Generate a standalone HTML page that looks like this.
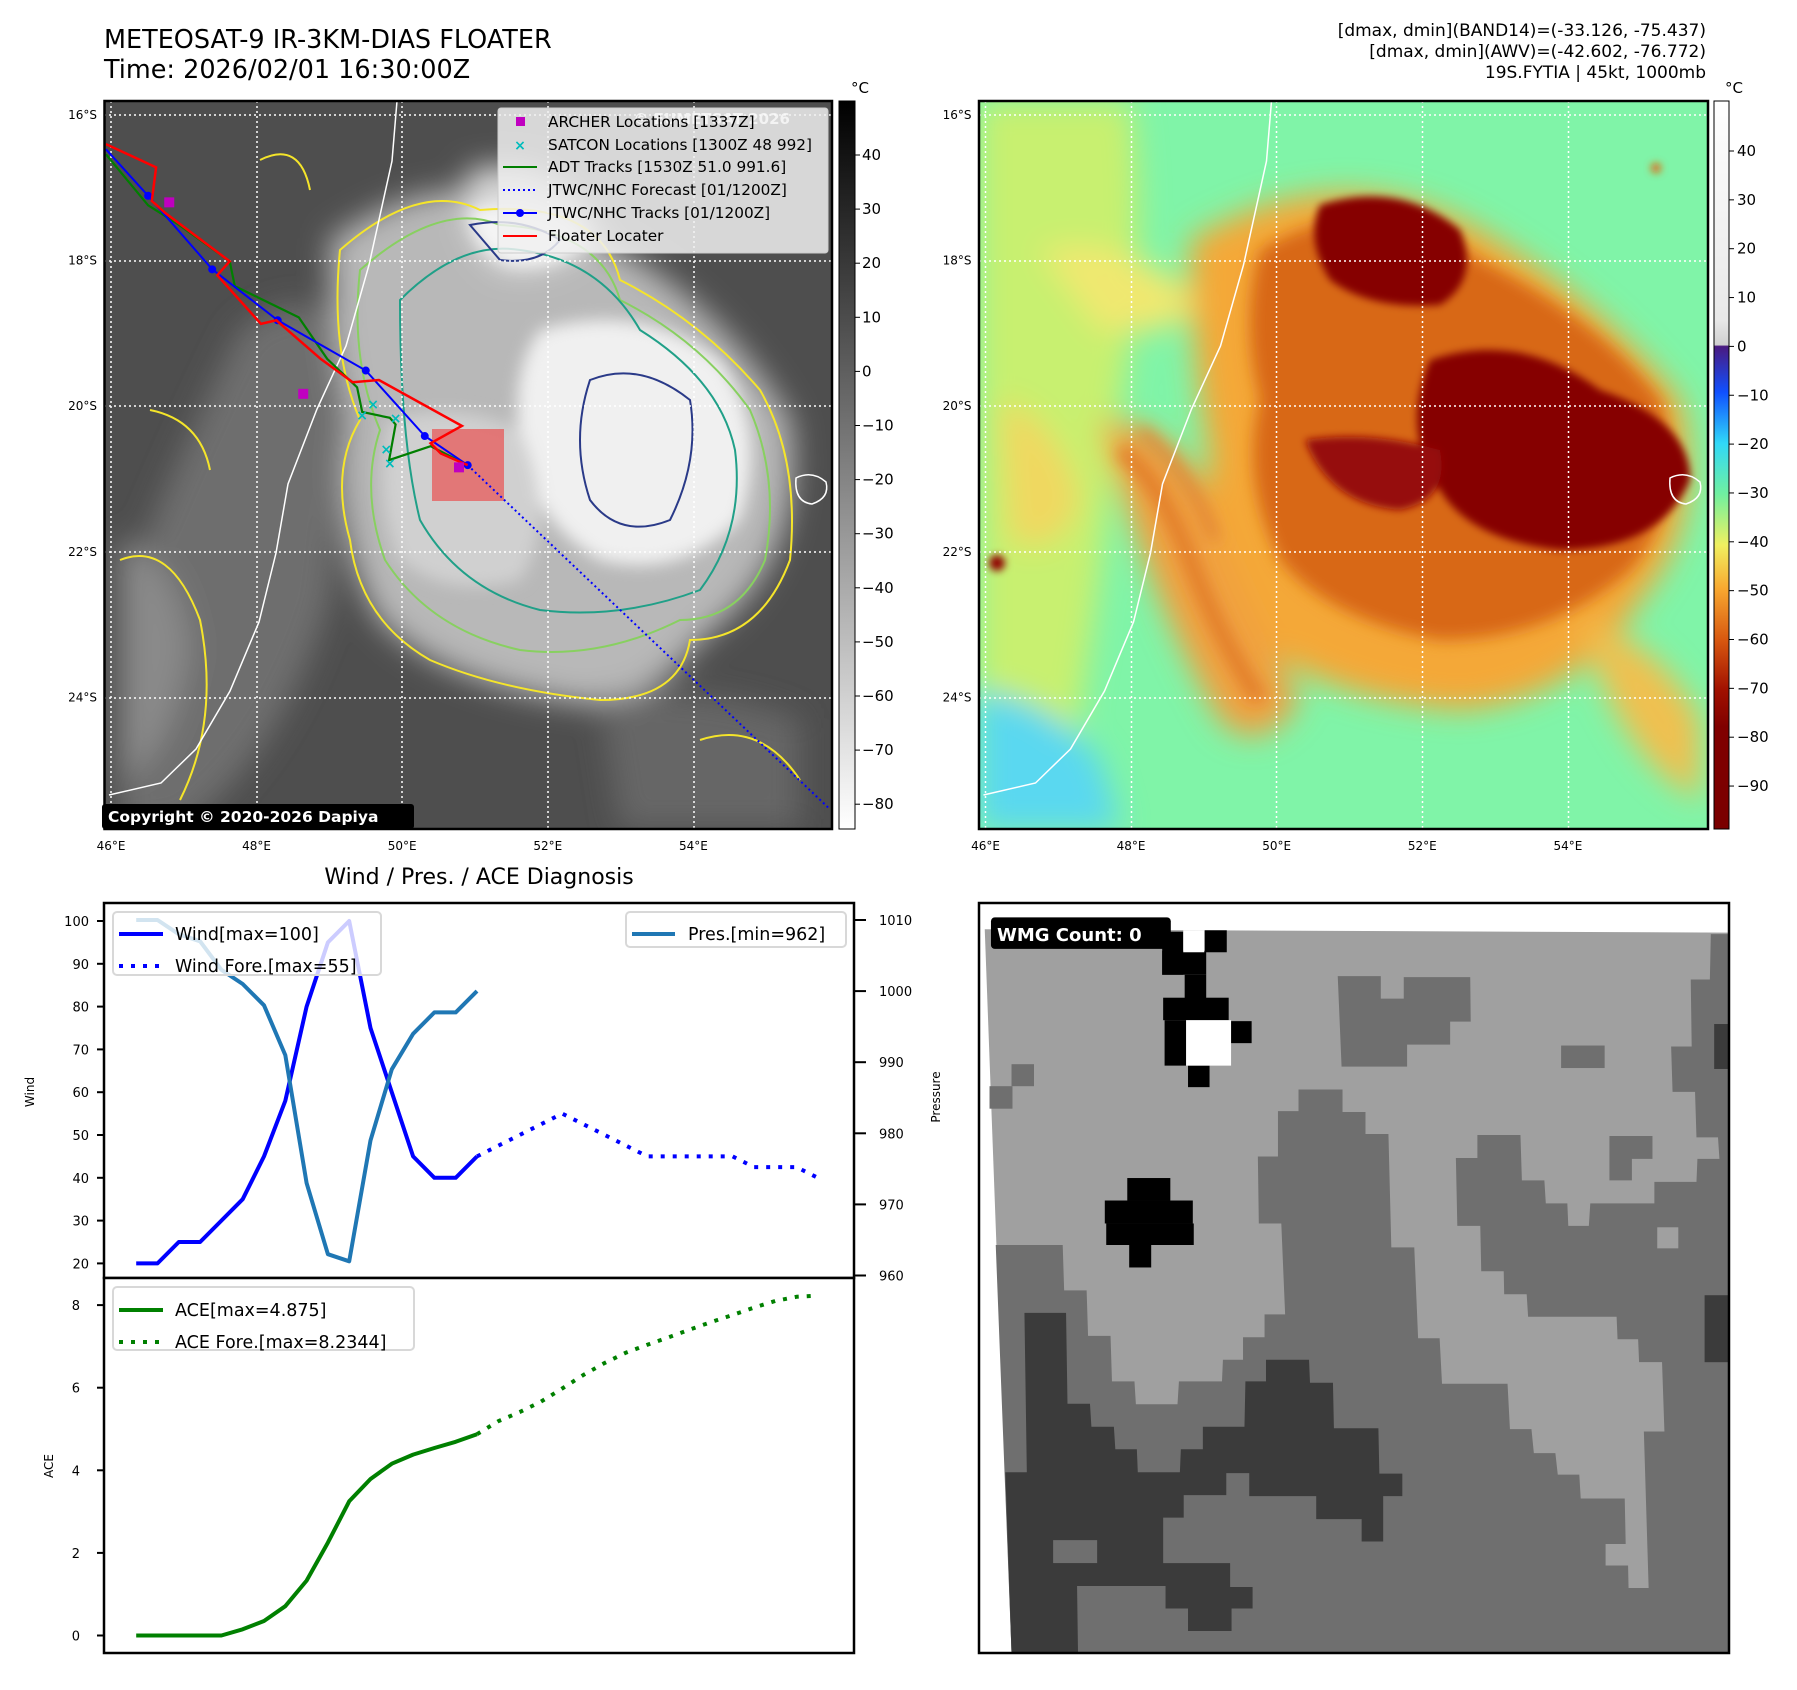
<!DOCTYPE html>
<html><head><meta charset="utf-8">
<style>
html,body{margin:0;padding:0;background:#fff;}
body{width:1797px;height:1690px;position:relative;overflow:hidden;font-family:"DejaVu Sans","Liberation Sans",sans-serif;color:#000;}
.abs{position:absolute;white-space:nowrap;}
svg{position:absolute;left:0;top:0;}
</style></head>
<body>
<div class="abs" style="left:104px;top:25px;font-size:25.5px;line-height:30px;">METEOSAT-9 IR-3KM-DIAS FLOATER<br>Time: 2026/02/01 16:30:00Z</div>
<div class="abs" style="right:91px;top:21px;font-size:17px;line-height:21px;text-align:right;">[dmax, dmin](BAND14)=(-33.126, -75.437)<br>[dmax, dmin](AWV)=(-42.602, -76.772)<br>19S.FYTIA | 45kt, 1000mb</div>
<div class="abs" style="left:479px;top:865px;transform:translateX(-50%);font-size:22px;">Wind / Pres. / ACE Diagnosis</div>

<svg width="1797" height="1690" viewBox="0 0 1797 1690" xmlns="http://www.w3.org/2000/svg" font-family="DejaVu Sans, Liberation Sans, sans-serif">
<defs>
<filter id="b8" x="-30%" y="-30%" width="160%" height="160%"><feGaussianBlur stdDeviation="8"/></filter>
<filter id="b15" x="-30%" y="-30%" width="160%" height="160%"><feGaussianBlur stdDeviation="15"/></filter>
<filter id="b4" x="-30%" y="-30%" width="160%" height="160%"><feGaussianBlur stdDeviation="4"/></filter>
<clipPath id="clipL"><rect x="104.5" y="101" width="727.5" height="728"/></clipPath>
<clipPath id="clipR"><rect x="979" y="101" width="729" height="728"/></clipPath>
<linearGradient id="cbL" x1="0" y1="0" x2="0" y2="1"><stop offset="0" stop-color="#000"/><stop offset="1" stop-color="#fff"/></linearGradient>
<linearGradient id="cbR" x1="0" y1="0" x2="0" y2="1">
<stop offset="0" stop-color="#ffffff"/><stop offset="0.30" stop-color="#e8e8e8"/><stop offset="0.335" stop-color="#d0d0d0"/>
<stop offset="0.337" stop-color="#4a1a80"/><stop offset="0.40" stop-color="#1050ff"/><stop offset="0.47" stop-color="#30d8f8"/>
<stop offset="0.54" stop-color="#70f0a0"/><stop offset="0.61" stop-color="#f0f060"/><stop offset="0.67" stop-color="#f8a830"/>
<stop offset="0.74" stop-color="#d85810"/><stop offset="0.81" stop-color="#a01000"/><stop offset="0.86" stop-color="#800000"/><stop offset="1" stop-color="#7a0000"/></linearGradient>
</defs>

<!-- LEFT IR MAP -->
<g clip-path="url(#clipL)">
<rect x="104" y="101" width="728" height="728" fill="#4e4e4e"/>
<g filter="url(#b15)">
<path d="M240 330 Q300 280 360 330 L330 600 Q280 760 180 829 L120 829 L120 600 Q180 450 240 330Z" fill="#6e6e6e"/>
<path d="M330 240 Q470 140 600 240 Q720 300 790 420 Q810 560 700 640 Q640 720 560 700 Q440 680 380 620 Q330 540 350 420 Q330 330 330 240Z" fill="#b8b8b8"/>
<path d="M470 170 Q560 150 600 230 Q560 280 500 270 Q450 230 470 170Z" fill="#d8d8d8"/>
<path d="M120 540 Q180 560 190 650 Q170 760 120 780Z" fill="#8a8a8a"/>
<path d="M600 700 Q700 680 800 720 L800 829 L620 829Z" fill="#666"/>
</g>
<g filter="url(#b8)">
<path d="M540 330 Q640 300 720 360 Q770 430 740 520 Q680 580 600 560 Q530 520 520 440 Q510 370 540 330Z" fill="#f0f0f0"/>
<path d="M470 210 Q540 190 590 240 Q560 270 510 265 Q470 250 470 210Z" fill="#f4f4f4"/>
<path d="M390 420 Q460 400 520 430 Q560 520 520 580 Q450 600 400 560 Q370 490 390 420Z" fill="#d0d0d0"/>
</g>
<g fill="none" stroke-width="2">
<path d="M340 250 Q420 180 480 210 Q600 200 620 280 Q700 320 760 390 Q800 460 790 560 Q760 640 690 640 Q680 700 600 700 Q500 690 430 660 Q360 620 350 540 Q330 470 360 420 Q330 350 340 250Z" stroke="#f5e52a"/>
<path d="M360 270 Q440 200 500 225 Q600 230 620 300 Q700 340 750 410 Q780 480 765 560 Q740 620 680 620 Q600 660 520 650 Q430 630 385 560 Q360 490 380 430 Q350 360 360 270Z" stroke="#88d060"/>
<path d="M400 300 Q460 240 520 250 Q600 260 640 330 Q720 380 735 450 Q745 530 700 590 Q620 620 540 610 Q460 590 420 520 Q400 440 400 300Z" stroke="#20a088"/>
<path d="M590 380 Q640 360 690 400 Q700 460 670 520 Q620 540 590 500 Q570 440 590 380Z" stroke="#2a3a88"/>
<path d="M470 225 Q520 215 560 240 Q540 265 500 260Z" stroke="#2a3a88"/>
<path d="M120 560 Q170 540 200 620 Q220 720 180 800 M150 410 Q200 420 210 470 M700 740 Q760 720 800 780 M260 160 Q300 140 310 190"  stroke="#f5e52a"/>
</g>
<g stroke="#fff" stroke-width="1.5" stroke-dasharray="2,3" fill="none">
<path d="M104 115H832M104 261H832M104 406H832M104 552H832M104 698H832M111 101V829M257 101V829M402 101V829M548 101V829M694 101V829"/>
</g>
<path d="M397 101 L392 161 L369 265 L346 346 L317 409 L288 484 L276 553 L259 622 L230 691 L196 749 L161 783 L109 795" fill="none" stroke="#fff" stroke-width="1.5"/>
<path d="M796 478 Q812 470 826 482 Q830 498 812 504 Q794 502 796 478Z" fill="none" stroke="#fff" stroke-width="1.5"/>
<rect x="432" y="429" width="72" height="72" fill="rgba(235,70,70,0.65)"/>
<g id="tracks"></g>
</g>
<rect x="104.5" y="101" width="727.5" height="728" fill="none" stroke="#000" stroke-width="2.5"/>

<g>
<rect x="498" y="108" width="330" height="145" rx="3" fill="rgba(240,240,240,0.85)" stroke="#ccc"/>
<text x="790" y="124" font-size="15" font-weight="bold" fill="rgba(255,255,255,0.7)" text-anchor="end">© EUMETSAT 2026</text>
<rect x="516" y="117" width="9" height="9" fill="#c000c0"/>
<text x="520" y="150" font-size="14" fill="#00bcbc" text-anchor="middle" font-weight="bold">×</text>
<line x1="503" y1="167" x2="537" y2="167" stroke="#007f00" stroke-width="2"/>
<line x1="503" y1="190" x2="537" y2="190" stroke="#00f" stroke-width="2" stroke-dasharray="2,3"/>
<line x1="503" y1="213" x2="537" y2="213" stroke="#00f" stroke-width="2"/><circle cx="520" cy="213" r="4" fill="#00f"/>
<line x1="503" y1="236" x2="537" y2="236" stroke="#f00" stroke-width="2"/>
<g font-size="15.3" fill="#000">
<text x="548" y="127">ARCHER Locations [1337Z]</text>
<text x="548" y="150">SATCON Locations [1300Z 48 992]</text>
<text x="548" y="172">ADT Tracks [1530Z 51.0 991.6]</text>
<text x="548" y="195">JTWC/NHC Forecast [01/1200Z]</text>
<text x="548" y="218">JTWC/NHC Tracks [01/1200Z]</text>
<text x="548" y="241">Floater Locater</text>
</g></g>
<g>
<rect x="102" y="804" width="312" height="25" rx="3" fill="#000"/>
<text x="108" y="822" font-size="15.5" font-weight="bold" fill="#fff">Copyright © 2020-2026 Dapiya</text>
</g>

<!-- left colorbar -->
<g>
<rect x="839" y="101" width="16" height="728" fill="url(#cbL)" stroke="#000" stroke-width="1"/>
<text x="851" y="93" font-size="15">°C</text>
<g id="cbLticks" font-size="15"></g>
</g>

<!-- RIGHT AWV MAP -->
<g clip-path="url(#clipR)">
<rect x="979" y="101" width="729" height="728" fill="#80f4a8"/>
<g filter="url(#b15)">
<path d="M979 101 L1130 101 Q1150 250 1120 400 Q1100 600 1060 829 L979 829Z" fill="#c8f070"/>
<path d="M979 690 Q1050 700 1100 760 L1120 829 L979 829Z" fill="#5ad8f0"/>
<path d="M1040 250 Q1120 230 1200 300 Q1180 340 1100 330Z" fill="#f0e870"/>
<path d="M1000 400 Q1060 420 1080 500 Q1060 560 1010 540Z" fill="#f0d860"/>
<path d="M1190 240 Q1340 150 1480 230 Q1600 300 1680 400 Q1710 520 1640 600 Q1580 700 1460 710 Q1330 700 1250 640 Q1190 560 1210 460 Q1190 350 1190 240Z" fill="#f4a838"/>
<path d="M1100 420 Q1160 420 1200 480 Q1240 600 1300 700 Q1260 760 1220 720 Q1150 600 1100 420Z" fill="#f0a040"/>
<path d="M1580 620 Q1660 640 1700 720 L1700 800 Q1620 760 1580 620Z" fill="#f0c050"/>
</g>
<g filter="url(#b8)">
<path d="M1260 250 Q1380 180 1480 260 Q1600 320 1660 400 Q1690 500 1630 570 Q1550 640 1440 640 Q1330 620 1280 560 Q1240 480 1260 400 Q1240 320 1260 250Z" fill="#d86818"/>
<path d="M1120 450 Q1160 480 1190 560 Q1220 640 1260 700" fill="none" stroke="#e07828" stroke-width="14"/>
<path d="M1140 430 Q1190 470 1215 540" fill="none" stroke="#e08030" stroke-width="10"/>
</g>
<g filter="url(#b4)">
<path d="M1320 205 Q1400 180 1460 230 Q1480 280 1440 305 Q1370 310 1330 280 Q1305 240 1320 205Z" fill="#860000"/>
<path d="M1430 360 Q1520 330 1600 390 Q1690 420 1690 480 Q1660 550 1560 550 Q1470 540 1440 490 Q1400 430 1430 360Z" fill="#860000"/>
<path d="M1305 440 Q1370 430 1440 450 Q1450 500 1400 510 Q1330 505 1305 440Z" fill="#960808"/>
<circle cx="997" cy="563" r="8" fill="#900000"/>
<circle cx="1656" cy="168" r="5" fill="#e86010"/>
</g>
<g stroke="#fff" stroke-width="1.5" stroke-dasharray="2,3" fill="none">
<path d="M979 115H1708M979 261H1708M979 406H1708M979 552H1708M979 698H1708M985.5 101V829M1131.5 101V829M1276.5 101V829M1422.5 101V829M1568.5 101V829"/>
</g>
<path d="M1271.5 101 L1266.5 161 L1243.5 265 L1220.5 346 L1191.5 409 L1162.5 484 L1150.5 553 L1133.5 622 L1104.5 691 L1070.5 749 L1035.5 783 L983.5 795" fill="none" stroke="#fff" stroke-width="1.5"/>
<path d="M1670 478 Q1686 470 1700 482 Q1704 498 1686 504 Q1668 502 1670 478Z" fill="none" stroke="#fff" stroke-width="1.5"/>
</g>
<rect x="979" y="101" width="729" height="728" fill="none" stroke="#000" stroke-width="2.5"/>
<g>
<rect x="1714" y="101" width="15" height="728" fill="url(#cbR)" stroke="#000" stroke-width="1"/>
<text x="1725" y="93" font-size="15">°C</text>
<g id="cbRticks" font-size="15"></g>
</g>
<g id="mapticks" font-size="12"></g>

<!-- WMG panel -->
<g>
<svg x="979" y="903" width="750" height="750" viewBox="0 0 1568 1568" preserveAspectRatio="none">
<rect x="0" y="0" width="1568" height="1568" fill="#fff"/>
<polygon points="12,55 1568,62 1568,1568 68,1568" fill="#a0a0a0"/>
<polygon fill="#6f6f6f" points="35,715 175,715 178,810 225,810 228,905 275,905 278,1000 325,1000 328,1048 415,1048 418,1000 508,1000 510,955 552,955 552,908 597,908 597,860 640,860 632,670 585,670 583,530 625,530 625,435 668,435 668,390 760,390 760,437 808,437 808,483 856,483 862,720 910,720 918,910 963,910 968,1005 1105,1005 1110,1100 1155,1100 1160,1150 1205,1150 1210,1195 1255,1195 1258,1245 1350,1245 1352,1340 1310,1340 1310,1385 1357,1385 1358,1432 1400,1432 1390,1105 1433,1105 1428,960 1380,960 1378,912 1335,912 1333,865 1148,865 1145,818 1098,818 1097,770 1050,770 1048,675 1000,675 997,533 1042,533 1042,485 1132,485 1135,580 1182,580 1185,628 1230,628 1232,675 1275,675 1278,628 1412,628 1412,583 1500,583 1502,535 1548,535 1545,490 1500,490 1497,395 1450,395 1447,300 1490,300 1488,160 1528,160 1530,65 1568,65 1568,1568 68,1568"/>
<rect x="1418" y="678" width="44" height="44" fill="#a0a0a0"/>
<polygon fill="#6f6f6f" points="750,153 840,153 840,200 888,200 888,155 1027,155 1028,248 985,248 985,296 895,296 895,342 758,342"/>
<rect x="1217" y="298" width="91" height="47" fill="#6f6f6f"/>
<polygon fill="#6f6f6f" points="1318,487 1408,487 1408,535 1365,535 1365,580 1318,580"/>
<rect x="68" y="337" width="47" height="46" fill="#6f6f6f"/>
<rect x="22" y="383" width="48" height="47" fill="#6f6f6f"/>
<polygon fill="#3b3b3b" points="90,857 182,857 185,1047 232,1047 235,1095 282,1095 285,1142 330,1142 332,1190 420,1190 422,1142 468,1142 468,1095 555,1095 557,1000 600,1000 600,955 690,955 692,1003 740,1003 742,1098 835,1098 837,1193 885,1193 885,1240 845,1240 845,1335 800,1335 800,1288 705,1288 705,1240 565,1240 565,1192 517,1192 517,1238 428,1238 428,1285 385,1285 385,1380 525,1380 525,1430 572,1430 572,1475 528,1475 528,1522 437,1522 437,1475 390,1475 390,1428 205,1428 207,1568 68,1568 55,1190 100,1190 95,857"/>
<rect x="155" y="1332" width="92" height="48" fill="#6f6f6f"/>
<rect x="1537" y="253" width="31" height="94" fill="#3b3b3b"/>
<rect x="1517" y="820" width="51" height="140" fill="#3b3b3b"/>
<g fill="#000">
<rect x="383" y="60" width="44" height="90"/><rect x="383" y="100" width="92" height="50"/><rect x="430" y="150" width="45" height="50"/>
<rect x="385" y="198" width="137" height="47"/><rect x="388" y="245" width="45" height="95"/><rect x="525" y="247" width="45" height="46"/>
<rect x="437" y="340" width="45" height="45"/><rect x="472" y="57" width="46" height="46"/>
<rect x="310" y="575" width="90" height="47"/><rect x="263" y="622" width="184" height="48"/><rect x="266" y="670" width="183" height="45"/><rect x="314" y="715" width="46" height="47"/>
</g>
<rect x="433" y="245" width="94" height="95" fill="#fff"/>
<rect x="427" y="57" width="44" height="46" fill="#fff"/>
<rect x="25" y="30" width="376" height="66" rx="8" fill="#000"/>
</svg>
<rect x="979" y="903" width="750" height="750" fill="none" stroke="#000" stroke-width="2.5"/>
<text x="997" y="941" font-size="18" font-weight="bold" fill="#fff">WMG Count: 0</text>
</g>

<!-- bottom-left chart -->
<g id="diag">
<rect x="104" y="903" width="750" height="375" fill="#fff" stroke="#000" stroke-width="2.5"/>
<rect x="104" y="1278" width="750" height="375" fill="#fff" stroke="#000" stroke-width="2.5"/>
<g id="diagticks" font-size="13"></g>
<g id="diaglines"></g>
<text x="34" y="1092" font-size="12" transform="rotate(-90 34 1092)" text-anchor="middle">Wind</text>
<text x="940" y="1097" font-size="12" transform="rotate(-90 940 1097)" text-anchor="middle">Pressure</text>
<text x="53" y="1466" font-size="12" transform="rotate(-90 53 1466)" text-anchor="middle">ACE</text>
<g>
<rect x="113" y="912" width="268" height="63" rx="4" fill="rgba(255,255,255,0.8)" stroke="#d8d8d8" stroke-width="2"/>
<line x1="119" y1="934" x2="163" y2="934" stroke="#00f" stroke-width="4"/>
<line x1="119" y1="966" x2="163" y2="966" stroke="#00f" stroke-width="4" stroke-dasharray="4,8"/>
<text x="175" y="940" font-size="17.5">Wind[max=100]</text>
<text x="175" y="972" font-size="17.5">Wind Fore.[max=55]</text>
</g>
<g>
<rect x="626" y="912" width="220" height="35" rx="4" fill="rgba(255,255,255,0.8)" stroke="#d8d8d8" stroke-width="2"/>
<line x1="632" y1="934" x2="675" y2="934" stroke="#1f77b4" stroke-width="4"/>
<text x="688" y="940" font-size="17.5">Pres.[min=962]</text>
</g>
<g>
<rect x="113" y="1287" width="301" height="63" rx="4" fill="rgba(255,255,255,0.8)" stroke="#d8d8d8" stroke-width="2"/>
<line x1="119" y1="1310" x2="163" y2="1310" stroke="#008000" stroke-width="4"/>
<line x1="119" y1="1342" x2="163" y2="1342" stroke="#008000" stroke-width="4" stroke-dasharray="4,8"/>
<text x="175" y="1316" font-size="17.5">ACE[max=4.875]</text>
<text x="175" y="1348" font-size="17.5">ACE Fore.[max=8.2344]</text>
</g>
</g>
</svg>

<script>
// ---- diagnosis chart data ----
const windObs = [20,20,25,25,30,35,45,58,80,95,100,75,60,45,40,40,45];
const windFcst = [45,47.5,50,52.5,55,52.5,50,47.5,45,45,45,45,45,42.5,42.5,42.5,40];
const presObs = [1010,1010,1008,1007,1003,1001,998,991,973,963,962,979,989,994,997,997,1000];
const aceObs = [0,0,0,0,0,0.15,0.35,0.71,1.33,2.25,3.25,3.79,4.16,4.38,4.54,4.69,4.875];
const aceFcst = [4.875,5.19,5.41,5.66,5.98,6.31,6.6,6.85,7.04,7.22,7.41,7.59,7.76,7.94,8.1,8.2,8.23];
const windTicks = [20,30,40,50,60,70,80,90,100];
const presTicks = [960,970,980,990,1000,1010];
const aceTicks = [0,2,4,6,8];
// ---- map data (lon E, lat S) ----
const redLon = [45.93,46.62,46.56,46.75,47.63,47.46,48.06,48.27,48.88,49.32,49.68,50.82,50.39,50.53,50.90];
const redLat = [16.40,16.72,17.18,17.35,18.01,18.20,18.87,18.82,19.35,19.67,19.64,20.27,20.51,20.65,20.81];
const blueLon = [45.93,46.51,47.39,48.29,49.50,50.31,50.90];
const blueLat = [16.47,17.11,18.12,18.82,19.51,20.41,20.81];
const fcstLon = [50.90,55.86];
const fcstLat = [20.81,25.52];
const adtLon = [45.93,46.51,46.92,47.63,47.70,48.58,48.97,49.38,49.45,49.83,49.91,49.82,50.39,50.90];
const adtLat = [16.54,17.24,17.50,18.01,18.35,18.78,19.35,19.74,20.08,20.16,20.25,20.74,20.55,20.81];
const archerLon = [46.80,48.64,50.78];
const archerLat = [17.20,19.83,20.84];
const satconLon = [49.45,49.60,49.91,49.78,49.83];
const satconLat = [20.12,19.97,20.16,20.59,20.78];
const latTicks = [16,18,20,22,24];
const lonTicks = [46,48,50,52,54];
const cbLTicks = [40,30,20,10,0,-10,-20,-30,-40,-50,-60,-70,-80];
const cbRTicks = [40,30,20,10,0,-10,-20,-30,-40,-50,-60,-70,-80,-90];

const NS='http://www.w3.org/2000/svg';
function mk(tag, attrs, parent){const e=document.createElementNS(NS,tag);for(const k in attrs)e.setAttribute(k,attrs[k]);parent.appendChild(e);return e;}
const xi = i => 136.2 + i*21.3;
const yW = w => 921 + (100-w)*4.28;
const yP = p => 920 + (1010-p)*7.11;
const yA = a => 1635.5 - a*41.3;
const lx = lon => 111 + (lon-46)*72.8;
const ly = lat => 115 + (lat-16)*72.8;

const dl = document.getElementById('diaglines');
function line(vals, off, yf, color, dash, name){
  const d = vals.map((v,i)=>(i?'L':'M')+xi(i+off).toFixed(1)+' '+yf(v).toFixed(1)).join(' ');
  const p = mk('path',{d:d,fill:'none',stroke:color,'stroke-width':4,'stroke-linejoin':'round'},dl);
  if(dash) p.setAttribute('stroke-dasharray',dash);
  
  
}
line(windObs,0,yW,'#0000ff',null,'wind-line');
line(windFcst,16,yW,'#0000ff','4,8','wind-forecast-line');
line(presObs,0,yP,'#1f77b4',null,'pressure-line');
line(aceObs,0,yA,'#008000',null,'ace-line');
line(aceFcst,16,yA,'#008000','4,8','ace-forecast-line');

const dt = document.getElementById('diagticks');
windTicks.forEach(v=>{const y=yW(v);mk('line',{x1:97,y1:y,x2:104,y2:y,stroke:'#000','stroke-width':2},dt);
  const t=mk('text',{x:89,y:y+5,'text-anchor':'end'},dt);t.textContent=v;
  
  });
presTicks.forEach(v=>{const y=yP(v);mk('line',{x1:854,y1:y,x2:866,y2:y,stroke:'#000','stroke-width':2},dt);
  const t=mk('text',{x:879,y:y+5},dt);t.textContent=v;
  
  });
aceTicks.forEach(v=>{const y=yA(v);mk('line',{x1:97,y1:y,x2:104,y2:y,stroke:'#000','stroke-width':2},dt);
  const t=mk('text',{x:80,y:y+5,'text-anchor':'end'},dt);t.textContent=v;
  
  });

// colorbars
const cL=document.getElementById('cbLticks');
cbLTicks.forEach(v=>{const y=155+(40-v)*5.41;mk('line',{x1:855,y1:y,x2:860,y2:y,stroke:'#000'},cL);
  const t=mk('text',{x:862,y:y+5},cL);t.textContent=(v<0?'\u2212'+(-v):v);
  
  });
const cR=document.getElementById('cbRticks');
cbRTicks.forEach(v=>{const y=151+(40-v)*4.885;mk('line',{x1:1729,y1:y,x2:1734,y2:y,stroke:'#000'},cR);
  const t=mk('text',{x:1737,y:y+5},cR);t.textContent=(v<0?'\u2212'+(-v):v);
  
  });

// map ticks
const mt=document.getElementById('mapticks');
[0,874.5].forEach(off=>{
  latTicks.forEach(v=>{const t=mk('text',{x:off+97,y:ly(v)+4,'text-anchor':'end'},mt);t.textContent=v+'\u00b0S';
    
    });
  lonTicks.forEach(v=>{const t=mk('text',{x:off+lx(v),y:850,'text-anchor':'middle'},mt);t.textContent=v+'\u00b0E';
    
    });
});

// tracks
const tg=document.getElementById('tracks');
function track(lons,lats,color,w,dash,name){
  const d=lons.map((v,i)=>(i?'L':'M')+lx(v).toFixed(1)+' '+ly(lats[i]).toFixed(1)).join(' ');
  const p=mk('path',{d:d,fill:'none',stroke:color,'stroke-width':w},tg);
  if(dash)p.setAttribute('stroke-dasharray',dash);
  
  
}
track(fcstLon,fcstLat,'#0000ff',2,'2,3','jtwc-forecast-track');
track(adtLon,adtLat,'#007f00',2.2,null,'adt-track');
track(blueLon,blueLat,'#0000ff',2,null,'jtwc-track');
blueLon.forEach((v,i)=>{if(i===0)return;const c=mk('circle',{cx:lx(v),cy:ly(blueLat[i]),r:4,fill:'#0000ff'},tg);
  
  });
track(redLon,redLat,'#ff0000',2.5,null,'floater-locater-track');
archerLon.forEach((v,i)=>{const r=mk('rect',{x:lx(v)-5,y:ly(archerLat[i])-5,width:10,height:10,fill:'#c000c0'},tg);
  
  });
satconLon.forEach((v,i)=>{const t=mk('text',{x:lx(v),y:ly(satconLat[i])+5,'font-size':14,'font-weight':'bold',fill:'#00bcbc','text-anchor':'middle'},tg);t.textContent='\u00d7';
  
  });
</script>
</body></html>
